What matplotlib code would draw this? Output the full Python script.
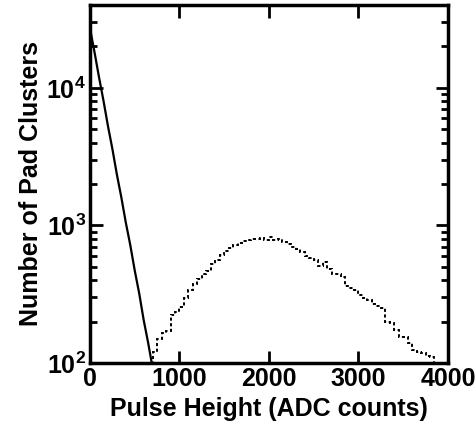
import numpy as np
import matplotlib
matplotlib.use("Agg")
import matplotlib.pyplot as plt

plt.rcParams['font.family'] = ['Liberation Sans', 'DejaVu Sans']
plt.rcParams['font.weight'] = 'bold'
plt.rcParams['mathtext.fontset'] = 'custom'
plt.rcParams['mathtext.bf'] = 'Liberation Sans:bold'
plt.rcParams['mathtext.rm'] = 'Liberation Sans:bold'

# solid curve (low pulse heights), sampled every 50 ADC counts
solid_x = [0, 50, 100, 150, 200, 250, 300, 350, 400, 450, 500, 550, 600, 650, 690]
solid_y = [27000, 18200, 12000, 8100, 5300, 3600, 2350, 1600, 1050, 720, 470, 320, 205, 140, 100]

# dotted histogram, bin edges 700..3850 in steps of 50
dot_edges = np.arange(700, 3851, 50)
dot_counts = [120, 150, 165, 172, 225, 235, 255, 295, 340, 375,
              405, 440, 470, 520, 560, 610, 650, 690, 720, 750,
              770, 790, 800, 795, 810, 790, 820, 780, 795, 760,
              730, 700, 670, 640, 600, 575, 560, 510, 540, 480,
              445, 445, 420, 360, 350, 340, 310, 295, 285, 270,
              260, 250, 200, 195, 175, 155, 155, 140, 125, 120,
              118, 112, 110]

fig = plt.figure(figsize=(4.77, 4.37), dpi=100)
ax = fig.add_axes([0.1887, 0.1693, 0.7503, 0.8193])

ax.plot(solid_x, solid_y, color='black', lw=1.6)
ax.plot([690, 690], [100, 95], color='black', lw=1.6)
ax.stairs(dot_counts, dot_edges, color='black', lw=1.4, linestyle=(0, (1.6, 1.3)))

ax.set_yscale('log')
ax.set_xlim(0, 4000)
ax.set_ylim(100, 40000)

ax.set_xticks([0, 1000, 2000, 3000, 4000])
ax.set_xticklabels(['0', '1000', '2000', '3000', '4000'])
ax.set_yticks([100, 1000, 10000])
ax.set_yticklabels([r'$\mathbf{10^{2}}$', r'$\mathbf{10^{3}}$', r'$\mathbf{10^{4}}$'])

ax.tick_params(which='both', direction='in', top=True, right=True, width=2)
ax.tick_params(which='major', length=9, labelsize=18, pad=3)
ax.tick_params(which='minor', length=5)
ax.tick_params(axis='x', which='minor', length=0)
for s in ax.spines.values():
    s.set_linewidth(2.5)

ax.set_xlabel('Pulse Height (ADC counts)', fontsize=18, fontweight='bold', labelpad=4)
ax.set_ylabel('Number of Pad Clusters', fontsize=18, fontweight='bold', labelpad=2)

fig.savefig('out.png', dpi=100)
